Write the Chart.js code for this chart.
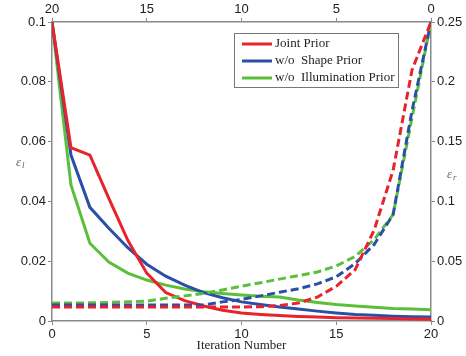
<!DOCTYPE html>
<html>
<head>
<meta charset="utf-8">
<script src="https://cdn.jsdelivr.net/npm/chart.js@4/dist/chart.umd.min.js"></script>
<style>
  body { margin: 0; background: #fff; }
  #wrap { width: 466px; height: 356px; }
</style>
</head>
<body>
<div id="wrap"><canvas id="errChart" width="466" height="356"></canvas></div>
<script>
const iterations = [0, 1, 2, 3, 4, 5, 6, 7, 8, 9, 10, 11, 12, 13, 14, 15, 16, 17, 18, 19, 20];
const seriesNames = ['Joint Prior', 'w/o  Shape Prior', 'w/o  Illumination Prior'];
const seriesColors = ['#e8232b', '#2a4fa6', '#5cbf3c'];

// solid lines, left axis (epsilon_l)
const jointL = [0.1, 0.058, 0.0555, 0.041, 0.027, 0.016, 0.0095, 0.0068, 0.005, 0.0036, 0.0027, 0.0022, 0.0018, 0.0015, 0.0013, 0.0011, 0.001, 0.0009, 0.0008, 0.0007, 0.0006];
const shapeL = [0.1, 0.0555, 0.038, 0.031, 0.0245, 0.019, 0.015, 0.012, 0.0095, 0.0078, 0.0064, 0.0055, 0.0047, 0.004, 0.0033, 0.0027, 0.0022, 0.0019, 0.0016, 0.0014, 0.0013];
const illumL = [0.1, 0.0455, 0.026, 0.0197, 0.016, 0.0137, 0.012, 0.0107, 0.0098, 0.0092, 0.0087, 0.0083, 0.008, 0.007, 0.0062, 0.0055, 0.005, 0.0046, 0.0042, 0.004, 0.0038];

// dashed lines, right axis (epsilon_r)
const jointR = [0.0117, 0.0117, 0.0117, 0.0117, 0.0117, 0.0117, 0.0117, 0.0117, 0.0117, 0.0117, 0.0117, 0.012, 0.013, 0.015, 0.02, 0.029, 0.043, 0.076, 0.126, 0.21, 0.25];
const shapeR = [0.0134, 0.0134, 0.0134, 0.0134, 0.0134, 0.0134, 0.0134, 0.0134, 0.0134, 0.016, 0.018, 0.021, 0.024, 0.027, 0.031, 0.037, 0.048, 0.064, 0.089, 0.176, 0.25];
const illumR = [0.015, 0.015, 0.0152, 0.0155, 0.016, 0.0165, 0.019, 0.021, 0.023, 0.026, 0.029, 0.032, 0.035, 0.038, 0.041, 0.046, 0.054, 0.068, 0.089, 0.17, 0.25];

const leftTicks = [0, 0.02, 0.04, 0.06, 0.08, 0.1];
const rightTicks = [0, 0.05, 0.1, 0.15, 0.2, 0.25];

const axisGray = '#8a8a8a';
const tickFont = { family: 'Liberation Sans', size: 13 };

function pts(vals) {
    return iterations.map((x, i) => ({ x: x, y: vals[i] }));
}

function lineSet(vals, color, axis, dashed) {
    return {
        data: pts(vals),
        borderColor: color,
        backgroundColor: color,
        borderWidth: 3,
        borderDash: dashed ? [8, 4] : [],
        pointRadius: 0,
        tension: 0,
        yAxisID: axis,
        xAxisID: 'x'
    };
}

const shortNum = v => String(+Number(v).toFixed(3));

const legendAndLabels = {
    id: 'legendAndLabels',
    afterDraw(chart) {
        const ctx = chart.ctx;
        ctx.save();
        // legend box
        ctx.fillStyle = '#fff';
        ctx.fillRect(234, 33, 164, 54);
        ctx.strokeStyle = '#777';
        ctx.lineWidth = 1;
        ctx.strokeRect(234.5, 33.5, 164, 54);
        ctx.font = '13px "Liberation Serif"';
        ctx.textBaseline = 'middle';
        const rowY = [44, 61, 78];
        seriesNames.forEach((name, i) => {
            ctx.strokeStyle = seriesColors[i];
            ctx.lineWidth = 3;
            ctx.beginPath();
            ctx.moveTo(242, rowY[i]);
            ctx.lineTo(272, rowY[i]);
            ctx.stroke();
            ctx.fillStyle = '#222';
            ctx.fillText(name, 275, rowY[i]);
        });
        // axis symbols
        ctx.fillStyle = '#666';
        ctx.font = 'italic 13px "Liberation Serif"';
        ctx.fillText('\u03b5', 16, 163);
        ctx.font = 'italic 9px "Liberation Serif"';
        ctx.fillText('l', 22, 166);
        ctx.font = 'italic 13px "Liberation Serif"';
        ctx.fillText('\u03b5', 447, 175);
        ctx.font = 'italic 9px "Liberation Serif"';
        ctx.fillText('r', 453, 178);
        ctx.restore();
    }
};

new Chart(document.getElementById('errChart'), {
    type: 'line',
    data: {
        datasets: [
            lineSet(jointR, seriesColors[0], 'yR', true),
            lineSet(shapeR, seriesColors[1], 'yR', true),
            lineSet(illumR, seriesColors[2], 'yR', true),
            lineSet(jointL, seriesColors[0], 'y', false),
            lineSet(shapeL, seriesColors[1], 'y', false),
            lineSet(illumL, seriesColors[2], 'y', false)
        ]
    },
    options: {
        responsive: false,
        animation: false,
        layout: { padding: 0 },
        plugins: {
            legend: { display: false },
            tooltip: { enabled: false }
        },
        scales: {
            x: {
                type: 'linear',
                position: 'bottom',
                min: 0,
                max: 20,
                ticks: { stepSize: 5, font: tickFont, color: '#222', padding: 2, maxRotation: 0 },
                grid: { drawOnChartArea: false, color: axisGray, tickLength: 4 },
                border: { color: axisGray, width: 1.5 },
                title: { display: true, text: 'Iteration Number', font: { family: 'Liberation Serif', size: 13 }, color: '#222', padding: { top: 0, bottom: 3 } },
                afterFit: s => { s.height = 35; }
            },
            xTop: {
                type: 'linear',
                position: 'top',
                reverse: true,
                min: 0,
                max: 20,
                ticks: { stepSize: 5, font: tickFont, color: '#222', padding: 1, maxRotation: 0 },
                grid: { drawOnChartArea: false, color: axisGray, tickLength: 4 },
                border: { color: axisGray, width: 1.5 },
                afterFit: s => { s.height = 22; }
            },
            y: {
                type: 'linear',
                position: 'left',
                min: 0,
                max: 0.1,
                afterBuildTicks: s => { s.ticks = leftTicks.map(v => ({ value: v })); },
                ticks: { font: tickFont, color: '#222', padding: 2, callback: shortNum },
                grid: { drawOnChartArea: false, color: axisGray, tickLength: 4 },
                border: { color: axisGray, width: 1.5 },
                afterFit: s => { s.width = 52; }
            },
            yR: {
                type: 'linear',
                position: 'right',
                min: 0,
                max: 0.25,
                afterBuildTicks: s => { s.ticks = rightTicks.map(v => ({ value: v })); },
                ticks: { font: tickFont, color: '#222', padding: 2, callback: shortNum },
                grid: { drawOnChartArea: false, color: axisGray, tickLength: 4 },
                border: { color: axisGray, width: 1.5 },
                afterFit: s => { s.width = 35; }
            }
        }
    },
    plugins: [legendAndLabels]
});
</script>
</body>
</html>
